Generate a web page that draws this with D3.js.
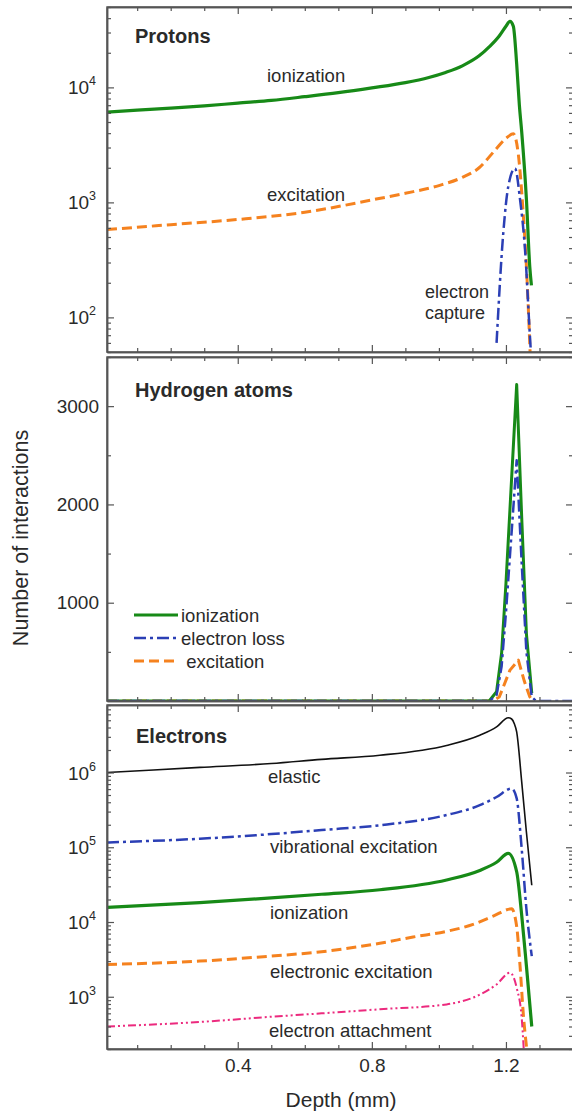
<!DOCTYPE html>
<html><head><meta charset="utf-8">
<script src="https://cdn.jsdelivr.net/npm/d3@7"></script>
<style>
html,body{margin:0;padding:0;background:#fff;}
svg{display:block;font-family:"Liberation Sans",Arial,sans-serif;}
</style></head>
<body><svg id="c" width="572" height="1113"></svg>
<script>
// ---------------- DATA ----------------
const xTicksMajor = [0.4, 0.8, 1.2];
const xTickLabels = ["0.4", "0.8", "1.2"];
const panelTitles = ["Protons", "Hydrogen atoms", "Electrons"];
const xTitle = "Depth (mm)";
const yTitle = "Number of interactions";

// Protons (log)
const pIonDepth = [0.01,0.1,0.2,0.3,0.4,0.5,0.6,0.7,0.8,0.9,0.97,1.02,1.07,1.12,1.15,1.18,1.2,1.212,1.222,1.232,1.24,1.247,1.261,1.271,1.276];
const pIonVal   = [6100,6350,6600,6900,7300,7700,8300,9000,9900,11000,12200,13500,15400,18800,22500,28000,34000,37500,34000,16000,7000,4100,1070,277,190];
const pExcDepth = [0.01,0.2,0.4,0.6,0.8,0.9,1.0,1.07,1.12,1.17,1.2,1.222,1.237,1.252,1.261,1.272];
const pExcVal   = [580,640,710,820,1050,1200,1400,1650,2000,2900,3600,3950,2600,760,280,50];
const pCapDepth = [1.172,1.192,1.207,1.227,1.242,1.257,1.271,1.274];
const pCapVal   = [60,540,1380,1980,1060,385,73,52];

// Hydrogen atoms (linear)
const hIonDepth = [0.01,1.15,1.172,1.187,1.2,1.232,1.247,1.261,1.277];
const hIonVal   = [0,0,94,486,1195,3220,1867,686,80];
const hLossDepth = [0.01,1.15,1.172,1.187,1.2,1.232,1.247,1.261,1.277,1.29,1.4];
const hLossVal   = [0,0,60,350,900,2450,1400,500,40,0,0];
const hExcDepth = [0.01,1.16,1.18,1.212,1.237,1.255,1.271,1.28];
const hExcVal   = [0,0,40,314,415,200,44,0];

// Electrons (log)
const eElaDepth = [0.01,0.287,0.5,0.65,0.824,1.023,1.122,1.172,1.207,1.217,1.225,1.232,1.247,1.261,1.277];
const eElaVal   = [1.0e6,1.17e6,1.32e6,1.5e6,1.7e6,2.3e6,3.15e6,4.07e6,5.4e6,5.2e6,4.5e6,3.5e6,7.5e5,1.6e5,3.1e4];
const eVibDepth = [0.01,0.287,0.5,0.65,0.824,1.023,1.122,1.172,1.217,1.232,1.247,1.261,1.277];
const eVibVal   = [1.16e5,1.3e5,1.5e5,1.7e5,1.97e5,2.7e5,3.65e5,4.7e5,6.1e5,4.5e5,9.5e4,1.5e4,3500];
const eIonDepth = [0.01,0.287,0.5,0.65,0.824,1.023,1.122,1.172,1.207,1.232,1.247,1.261,1.277];
const eIonVal   = [1.57e4,1.82e4,2.1e4,2.35e4,2.7e4,3.65e4,4.9e4,6.3e4,8.3e4,4.7e4,1.23e4,2600,400];
const eExcDepth = [0.01,0.287,0.5,0.65,0.824,0.923,1.023,1.102,1.162,1.217,1.232,1.242,1.252,1.262];
const eExcVal   = [2700,3000,3500,4000,5200,6300,7500,9300,12000,15000,8700,2600,570,200];
const eAttDepth = [0.01,0.287,0.5,0.65,0.824,1.023,1.122,1.172,1.212,1.232,1.247,1.253];
const eAttVal   = [400,460,540,600,680,790,1070,1460,2100,1320,520,200];

const hLegend = ["ionization", "electron loss", " excitation"];

// ---------------- LAYOUT ----------------
const svg = d3.select("#c");
const xL = 107, xR = 573;
const x = d3.scaleLinear().domain([0.01, 1.4]).range([xL, xR]);
const panels = [
  {top: 7, bot: 352, y: d3.scaleLog().domain([50, 5e4]).range([352, 7]), curve: d3.curveMonotoneX},
  {top: 357, bot: 701, y: d3.scaleLinear().domain([0, 3500]).range([701, 357]), curve: d3.curveLinear},
  {top: 705, bot: 1049, y: d3.scaleLog().domain([200, 8e6]).range([1049, 705]), curve: d3.curveMonotoneX}
];
const frameColor = "#555";
const textColor = "#2a2a2a";
const GREEN = "#178a17", ORANGE = "#f5821f", BLUE = "#2b3fb5", PINK = "#ec2a7e", BLACK = "#111";

const xMinor = d3.range(1, 14).map(i => i / 10).filter(v => !xTicksMajor.some(m => Math.abs(m - v) < 1e-9));

panels.forEach((p, i) => {
  const id = "clip" + i;
  svg.append("clipPath").attr("id", id).append("rect")
    .attr("x", xL).attr("y", p.top).attr("width", xR - xL).attr("height", p.bot - p.top);
  p.plot = svg.append("g").attr("clip-path", `url(#${id})`);

  let majors, minors;
  if (i === 1) { majors = [1000, 2000, 3000]; minors = [500, 1500, 2500, 3500]; }
  else {
    const [d0, d1] = p.y.domain();
    majors = []; minors = [];
    for (let e = Math.floor(Math.log10(d0)); e <= Math.ceil(Math.log10(d1)); e++) {
      for (let m = 1; m <= 9; m++) {
        const v = m * Math.pow(10, e);
        if (v < d0 || v > d1) continue;
        (m === 1 ? majors : minors).push(v);
      }
    }
  }
  const axG = svg.append("g").attr("class", "axes");
  axG.append("g").attr("transform", `translate(${xL},0)`)
    .call(d3.axisLeft(p.y).tickValues(majors).tickSizeInner(-7).tickSizeOuter(0).tickFormat(""));
  axG.append("g").attr("transform", `translate(${xL},0)`)
    .call(d3.axisLeft(p.y).tickValues(minors).tickSizeInner(-4).tickSizeOuter(0).tickFormat(""));
  axG.append("g").attr("transform", `translate(${xR},0)`)
    .call(d3.axisRight(p.y).tickValues(majors).tickSizeInner(-7).tickSizeOuter(0).tickFormat(""));
  axG.append("g").attr("transform", `translate(${xR},0)`)
    .call(d3.axisRight(p.y).tickValues(minors).tickSizeInner(-4).tickSizeOuter(0).tickFormat(""));
  axG.append("g").attr("transform", `translate(0,${p.top})`)
    .call(d3.axisTop(x).tickValues(xTicksMajor).tickSizeInner(-7).tickSizeOuter(0).tickFormat(""));
  axG.append("g").attr("transform", `translate(0,${p.top})`)
    .call(d3.axisTop(x).tickValues(xMinor).tickSizeInner(-4).tickSizeOuter(0).tickFormat(""));
  const bAx = d3.axisBottom(x).tickValues(xTicksMajor).tickSizeInner(-7).tickSizeOuter(0).tickPadding(10);
  if (i === 2) bAx.tickFormat((d, k) => xTickLabels[k]); else bAx.tickFormat("");
  axG.append("g").attr("class", "xb").attr("transform", `translate(0,${p.bot})`).call(bAx);
  axG.append("g").attr("transform", `translate(0,${p.bot})`)
    .call(d3.axisBottom(x).tickValues(xMinor).tickSizeInner(-4).tickSizeOuter(0).tickFormat(""));

  axG.append("rect").attr("x", xL).attr("y", p.top).attr("width", xR - xL).attr("height", p.bot - p.top)
    .attr("fill", "none").attr("stroke", frameColor).attr("stroke-width", 1.5);

  if (i === 1) {
    axG.selectAll("text.yl").data(majors).join("text").attr("class", "yl")
      .attr("x", xL - 8).attr("y", d => p.y(d)).attr("dy", "0.35em")
      .attr("text-anchor", "end").attr("font-size", 19).attr("fill", textColor).text(d => d);
  } else {
    majors.forEach(v => {
      const t = axG.append("text").attr("x", xL - 11).attr("y", p.y(v) + 7)
        .attr("text-anchor", "end").attr("font-size", 19).attr("fill", textColor);
      t.append("tspan").text("10");
      t.append("tspan").attr("font-size", 12.5).attr("dy", -9).text(Math.round(Math.log10(v)));
    });
  }
});

svg.selectAll(".axes path.domain").attr("stroke", frameColor).attr("stroke-width", 1.5);
svg.selectAll(".axes .tick line").attr("stroke", frameColor).attr("stroke-width", 1.2);
svg.selectAll(".xb text").attr("font-size", 19).attr("fill", textColor).attr("font-family", "Liberation Sans, Arial, sans-serif");

// ---------------- LINES ----------------
function draw(p, depth, vals, color, width, dash) {
  const line = d3.line().x(d => x(d[0])).y(d => p.y(d[1])).curve(p.curve);
  p.plot.append("path").datum(depth.map((d, k) => [d, vals[k]]))
    .attr("d", line).attr("fill", "none").attr("stroke", color).attr("stroke-width", width)
    .attr("stroke-dasharray", dash || null).attr("stroke-linejoin", "round");
}
const DASH = "10,5", DASHDOT = "12,4,3,4", DASHDOTDOT = "8,3,2,3,2,3";

const P = panels[0], Hp = panels[1], E = panels[2];
draw(P, pExcDepth, pExcVal, ORANGE, 3, DASH);
draw(P, pCapDepth, pCapVal, BLUE, 2.5, DASHDOT);
draw(P, pIonDepth, pIonVal, GREEN, 3.2);

draw(Hp, hExcDepth, hExcVal, ORANGE, 3, DASH);
draw(Hp, hIonDepth, hIonVal, GREEN, 3);
draw(Hp, hLossDepth, hLossVal, BLUE, 2.5, DASHDOT);

draw(E, eElaDepth, eElaVal, BLACK, 1.6);
draw(E, eVibDepth, eVibVal, BLUE, 2.5, DASHDOT);
draw(E, eIonDepth, eIonVal, GREEN, 3.2);
draw(E, eExcDepth, eExcVal, ORANGE, 3, DASH);
draw(E, eAttDepth, eAttVal, PINK, 2, DASHDOTDOT);

// ---------------- TEXT ----------------
function txt(s, xx, yy, opt = {}) {
  return svg.append("text").attr("x", xx).attr("y", yy).attr("font-size", opt.size || 18.5)
    .attr("font-weight", opt.bold ? "bold" : null).attr("fill", textColor)
    .attr("text-anchor", opt.anchor || "start").text(s);
}
txt(panelTitles[0], 135, 43, {bold: true, size: 20});
txt(panelTitles[1], 135, 397, {bold: true, size: 20});
txt(panelTitles[2], 136, 743, {bold: true, size: 20});

txt("ionization", 267, 82);
txt("excitation", 267, 201);
txt("electron", 425, 298, {size: 18});
txt("capture", 425, 319, {size: 18});

txt("elastic", 268, 783);
txt("vibrational excitation", 270, 853);
txt("ionization", 270, 919);
txt("electronic excitation", 270, 978);
txt("electron attachment", 269, 1037);

const legColors = [GREEN, BLUE, ORANGE], legDash = [null, DASHDOT, DASH], legW = [3, 2.5, 3];
const legY = [615, 638, 661];
hLegend.forEach((s, k) => {
  svg.append("line").attr("x1", 134).attr("x2", 178).attr("y1", legY[k]).attr("y2", legY[k])
    .attr("stroke", legColors[k]).attr("stroke-width", legW[k]).attr("stroke-dasharray", legDash[k]);
  svg.append("text").attr("x", 181).attr("y", legY[k] + 6.5).attr("font-size", 18.5)
    .attr("fill", textColor).style("white-space", "pre").text(s);
});

txt(xTitle, 341, 1107, {size: 21, anchor: "middle"});
svg.append("text").attr("transform", "translate(28,538) rotate(-90)").attr("text-anchor", "middle")
  .attr("font-size", 21.5).attr("fill", textColor).text(yTitle);
</script></body></html>
